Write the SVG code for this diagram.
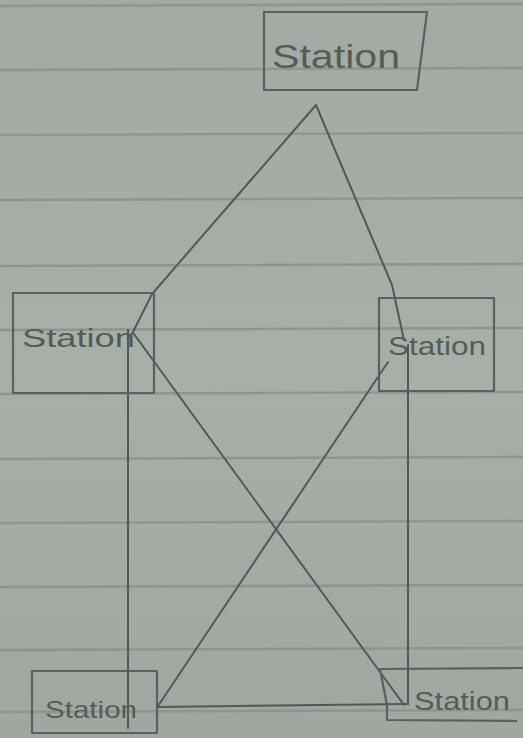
<svg xmlns="http://www.w3.org/2000/svg" width="523" height="738" viewBox="0 0 523 738">
<defs>
<style>
.rule{stroke:#8d958e;stroke-width:2.5;fill:none}
.box{fill:none;stroke:#5a615c;stroke-width:2.2;stroke-linejoin:round}
.edge{fill:none;stroke:#525954;stroke-width:2;stroke-linecap:round}
.lbl{font-family:"Liberation Sans",Arial,sans-serif;fill:#555c57;font-weight:normal}
</style>
<linearGradient id="bg" x1="0" y1="0" x2="0" y2="1">
<stop offset="0" stop-color="#a3aaa3"/>
<stop offset="0.5" stop-color="#a8afa8"/>
<stop offset="1" stop-color="#a0a7a1"/>
</linearGradient>
</defs>
<rect x="0" y="0" width="523" height="738" fill="url(#bg)"/>
<g id="paper-rules">
<line class="rule" x1="0" y1="6" x2="523" y2="4"/>
<line class="rule" x1="0" y1="70" x2="523" y2="68"/>
<line class="rule" x1="0" y1="135" x2="523" y2="133"/>
<line class="rule" x1="0" y1="200" x2="523" y2="198"/>
<line class="rule" x1="0" y1="266" x2="523" y2="264"/>
<line class="rule" x1="0" y1="330" x2="523" y2="328"/>
<line class="rule" x1="0" y1="394" x2="523" y2="392"/>
<line class="rule" x1="0" y1="459" x2="523" y2="457"/>
<line class="rule" x1="0" y1="523" x2="523" y2="521"/>
<line class="rule" x1="0" y1="587" x2="523" y2="585"/>
<line class="rule" x1="0" y1="650" x2="523" y2="648"/>
<line class="rule" x1="0" y1="712" x2="523" y2="710"/>
</g>
<g id="connectors">
<polyline class="edge" points="316,105 152,294 132,334"/>
<polyline class="edge" points="316,105 392,285 404,340"/>
<line class="edge" x1="134" y1="334" x2="404" y2="705"/>
<line class="edge" x1="388" y1="362" x2="158" y2="706"/>
<line class="edge" x1="128" y1="330" x2="128" y2="728"/>
<line class="edge" x1="408" y1="345" x2="408" y2="704"/>
<line class="edge" x1="157" y1="707" x2="408" y2="704"/>
</g>
<g id="station-top">
<polygon class="box" points="264,12 427,12 417,90 264,90"/>
<text class="lbl" x="272" y="68" font-size="34" textLength="128" lengthAdjust="spacingAndGlyphs">Station</text>
</g>
<g id="station-left">
<rect class="box" x="13" y="293" width="141" height="100"/>
<text class="lbl" x="22" y="347" font-size="26" textLength="113" lengthAdjust="spacingAndGlyphs">Station</text>
</g>
<g id="station-right">
<rect class="box" x="379" y="298" width="115" height="93"/>
<text class="lbl" x="388" y="355" font-size="26" textLength="98" lengthAdjust="spacingAndGlyphs">Station</text>
</g>
<g id="station-bottom-left">
<rect class="box" x="32" y="671" width="125" height="62"/>
<text class="lbl" x="45" y="718" font-size="24" textLength="92" lengthAdjust="spacingAndGlyphs">Station</text>
</g>
<g id="station-bottom-right">
<polyline class="box" points="523,668 380,669 387,705 387,720 517,721"/>
<text class="lbl" x="414" y="710" font-size="26" textLength="96" lengthAdjust="spacingAndGlyphs">Station</text>
</g>
</svg>
